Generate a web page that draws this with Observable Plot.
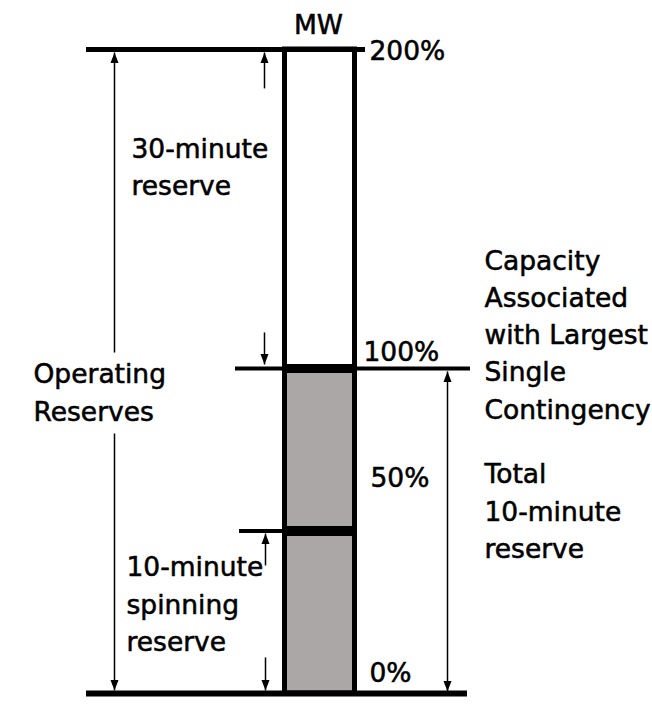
<!DOCTYPE html>
<html>
<head>
<meta charset="utf-8">
<script src="https://cdn.jsdelivr.net/npm/d3@7"></script>
<script src="https://cdn.jsdelivr.net/npm/@observablehq/plot@0.6"></script>
<style>
  html, body { margin: 0; padding: 0; background: #ffffff; }
  #chart svg { display: block; background: #ffffff; }
</style>
</head>
<body>
<div id="chart"></div>
<script>
// ---------------- DATA ----------------
const levels = [0, 50, 100, 200];                    // % of MW
const levelLabels = ["0%", "50%", "100%", "200%"];
const unitLabel = "MW";
const bandFrom = [0, 100];                           // % of MW
const bandTo = [100, 200];
const bandNames = ["10-minute reserve", "30-minute reserve"];
const annotationTexts = [
  "30-minute\nreserve",
  "Operating\nReserves",
  "10-minute\nspinning\nreserve",
  "Capacity\nAssociated\nwith Largest\nSingle\nContingency",
  "Total\n10-minute\nreserve"
];
// arrows: spans in % of MW (start of shaft -> arrow tip)
const arrowFrom = [105.0, 80.0, 187.8, 111.3, 39.4, 11.1, 50, 50];
const arrowTo   = [199.06, 0.92, 199.06, 101.25, 49.2, 0.92, 99.1, 0.6];

// ---------------- LAYOUT (positions / styles) ----------------
const W = 652, H = 708;
const colLeft = 284.5, colRight = 354.5;
const bandFill = ["#aca7a7", "#ffffff"];
const ruleX1 = {0: 86, 50: 239, 100: 235, 200: 86};
const ruleX2 = {0: 467, 50: colLeft, 100: 470, 200: 365};
const ruleW  = {0: 6, 50: 4, 100: 4, 200: 5};
const dividerW = {50: 10, 100: 9};
const labelX = [369, 370, 363, 369];
const labelY = [3.4, 63.4, 102.2, 196.6];
const annX = [131, 33, 126, 484, 484];
const annY = [154.5, 84.0, 13.2, 84.6, 41.8];
const arrowX = [114, 114, 264, 264, 265, 265, 447, 447];
const font = "DejaVu Sans";
const fontSize = 26.5;
const lineHeight = 1.4;
const textStyle = {fontFamily: font, fontSize: fontSize, fill: "#000", stroke: "#000", strokeWidth: 0.55};

// ---------------- TABLES ----------------
const bands = bandFrom.map((f, i) => ({from: f, to: bandTo[i], name: bandNames[i], fill: bandFill[i]}));
const rules = levels.map(l => ({level: l, x1: ruleX1[l], x2: ruleX2[l], w: ruleW[l]}));
const dividers = levels.filter(l => dividerW[l]).map(l => ({level: l, w: dividerW[l]}));
const labels = levelLabels.map((t, i) => ({text: t, x: labelX[i], y: labelY[i]}));
const annotations = annotationTexts.map((t, i) => ({text: t, x: annX[i], y: annY[i]}));
const arrows = arrowFrom.map((f, i) => ({x: arrowX[i], from: f, to: arrowTo[i], rot: arrowTo[i] > f ? 0 : 180}));

const head = {
  draw(ctx) {
    ctx.moveTo(0, 0);
    ctx.lineTo(-4, 10.5);
    ctx.lineTo(4, 10.5);
    ctx.closePath();
  }
};

const chart = Plot.plot({
  width: W,
  height: H,
  margin: 0,
  style: {background: "#ffffff", overflow: "visible"},
  x: {type: "linear", domain: [0, W], range: [0, W], axis: null},
  y: {type: "linear", domain: [0, 100, 200], range: [693, 368, 49], axis: null},
  marks: [
    // column bands
    Plot.rect(bands, {x1: colLeft, x2: colRight, y1: "from", y2: "to", fill: "fill"}),
    // outer horizontal lines
    ...rules.map(r => Plot.ruleY([r], {y: "level", x1: r.x1, x2: r.x2, stroke: "#000", strokeWidth: r.w})),
    // thick dividers inside column
    ...dividers.map(d => Plot.ruleY([d], {y: "level", x1: colLeft, x2: colRight, stroke: "#000", strokeWidth: d.w})),
    // column outline
    Plot.rect([{from: 0, to: 200}], {x1: colLeft, x2: colRight, y1: "from", y2: "to", fill: "none", stroke: "#000", strokeWidth: 5}),
    // arrow shafts
    Plot.link(arrows, {x1: "x", x2: "x", y1: "from", y2: "to", stroke: "#000", strokeWidth: 1.5}),
    // arrow heads
    Plot.dot(arrows, {x: "x", y: "to", symbol: head, r: 5, fill: "#000", stroke: "none", rotate: "rot"}),
    // unit label
    Plot.text([unitLabel], {x: 318, y: 205, text: d => d, textAnchor: "middle", lineAnchor: "bottom", ...textStyle}),
    // level labels
    Plot.text(labels, {x: "x", y: "y", text: "text", textAnchor: "start", lineAnchor: "bottom", ...textStyle}),
    // annotations
    Plot.text(annotations, {x: "x", y: "y", text: "text", textAnchor: "start", lineAnchor: "bottom",
      lineHeight: lineHeight, ...textStyle})
  ]
});

document.getElementById("chart").appendChild(chart);
</script>
</body>
</html>
